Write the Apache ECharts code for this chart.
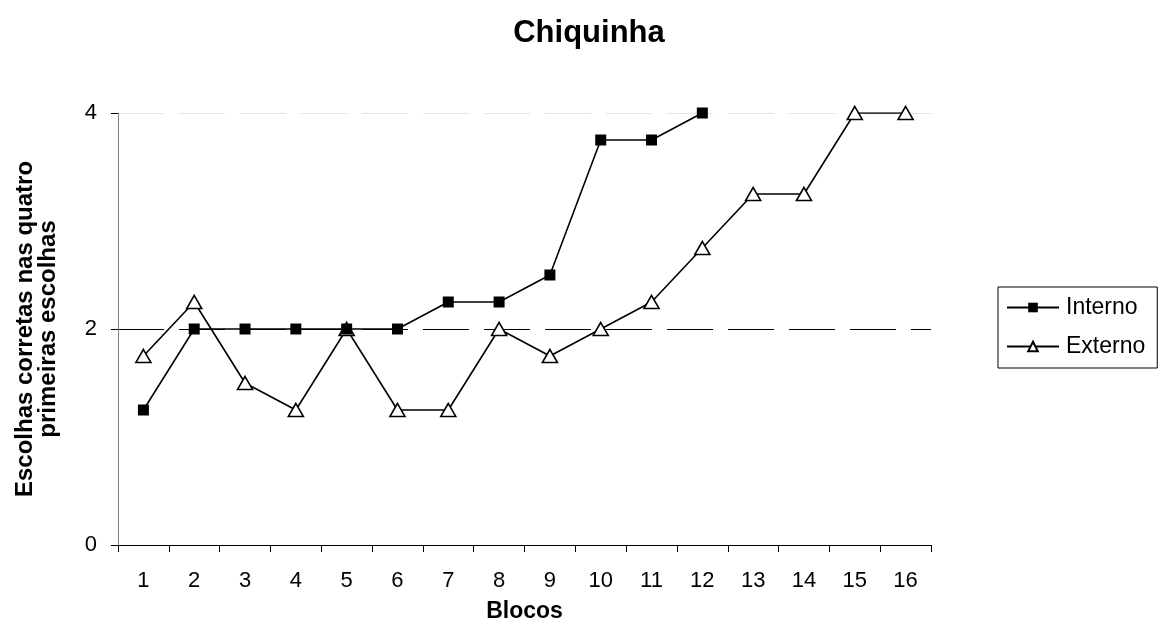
<!DOCTYPE html>
<html><head><meta charset="utf-8">
<script src="https://cdn.jsdelivr.net/npm/echarts@6/dist/echarts.min.js"></script>
<style>html,body{margin:0;padding:0;background:#fff}#c{width:1160px;height:636px}</style>
</head><body><div id="c"></div>
<script>
const categories = ['1','2','3','4','5','6','7','8','9','10','11','12','13','14','15','16'];
const interno = [1.25, 2, 2, 2, 2, 2, 2.25, 2.25, 2.5, 3.75, 3.75, 4];
const externo = [1.75, 2.25, 1.5, 1.25, 2, 1.25, 1.25, 2, 1.75, 2, 2.25, 2.75, 3.25, 3.25, 4, 4];
const yTicks = [0, 2, 4];

const chart = echarts.init(document.getElementById('c'), null, {renderer:'canvas'});
const F = '"Liberation Sans", Arial, sans-serif';
chart.setOption({
  animation: false,
  backgroundColor: '#fff',
  title: {text: 'Chiquinha', left: 584, top: 13, textAlign: 'center',
    textStyle: {fontFamily: F, fontSize: 31, fontWeight: 'bold', color: '#000', lineHeight: 31}},
  grid: {left: 118, right: 229, top: 113, bottom: 91, containLabel: false},
  legend: {
    left: 998, top: 287, orient: 'vertical', itemWidth: 52, itemHeight: 12, itemGap: 16,
    padding: [9, 12, 10, 8], borderColor: '#000', borderWidth: 1,
    textStyle: {fontFamily: F, fontSize: 23, color: '#000', lineHeight: 23, padding: [0,0,0,2]},
    data: ['Interno', 'Externo']
  },
  xAxis: {
    type: 'category', data: categories, boundaryGap: true,
    name: 'Blocos', nameLocation: 'middle', nameGap: 55,
    nameTextStyle: {fontFamily: F, fontSize: 23, fontWeight: 'bold', color: '#000', lineHeight: 23},
    axisLine: {lineStyle: {color: '#000', width: 1}},
    axisTick: {show: true, alignWithLabel: false, length: 7, lineStyle: {color: '#000'}},
    axisLabel: {fontFamily: F, fontSize: 22, color: '#000', margin: 25, lineHeight: 22},
    splitLine: {show: false}
  },
  yAxis: {
    type: 'value', min: 0, max: 4, interval: 2,
    name: 'Escolhas corretas nas quatro\nprimeiras escolhas', nameLocation: 'middle', nameGap: 58,
    nameTextStyle: {fontFamily: F, fontSize: 24, fontWeight: 'bold', color: '#000', lineHeight: 23},
    axisLine: {show: true, lineStyle: {color: '#808080', width: 1}},
    axisTick: {show: true, length: 7, lineStyle: {color: '#000'}},
    axisLabel: {fontFamily: F, fontSize: 22, color: '#000', margin: 21,
      formatter: v => yTicks.includes(v) ? String(v) : ''},
    splitLine: {show: true, lineStyle: {color: ['transparent', '#000', '#e2e2e2'], width: 1.2, type: [46, 15]}}
  },
  series: [
    {name: 'Interno', type: 'line', data: interno, symbol: 'rect', symbolSize: 11,
      itemStyle: {color: '#000', borderColor: '#000', borderWidth: 0},
      lineStyle: {color: '#000', width: 1.6}, z: 3},
    {name: 'Externo', type: 'line', data: externo, symbol: 'triangle', symbolSize: [15, 13],
      itemStyle: {color: '#fff', borderColor: '#000', borderWidth: 1.6},
      lineStyle: {color: '#000', width: 1.6}, z: 2}
  ]
});
</script></body></html>
